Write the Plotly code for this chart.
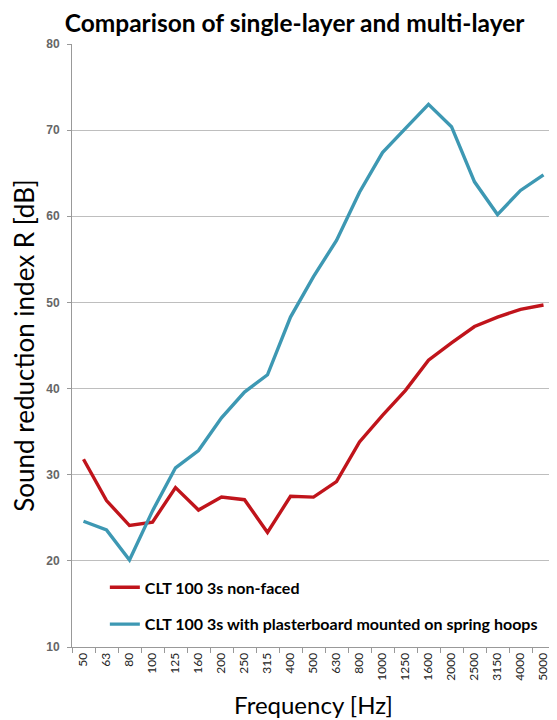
import plotly.graph_objects as go

freqs = ["50", "63", "80", "100", "125", "160", "200", "250", "315", "400", "500",
         "630", "800", "1000", "1250", "1600", "2000", "2500", "3150", "4000", "5000"]
clt_non_faced = [31.8, 27.0, 24.1, 24.5, 28.5, 25.9, 27.4, 27.1, 23.3, 27.5, 27.4,
                 29.2, 33.8, 36.9, 39.8, 43.3, 45.3, 47.2, 48.3, 49.2, 49.7]
clt_plasterboard = [24.6, 23.6, 20.1, 25.8, 30.8, 32.8, 36.6, 39.6, 41.6, 48.3, 53.0,
                    57.2, 62.8, 67.4, 70.2, 73.0, 70.4, 64.0, 60.2, 63.0, 64.8]
name_red = "CLT 100 3s non-faced"
name_blue = "CLT 100 3s with plasterboard mounted on spring hoops"

FONT = "Lato, Open Sans, sans-serif"

fig = go.Figure()
fig.add_trace(go.Scatter(x=freqs, y=clt_non_faced, mode="lines", name="<b>" + name_red + "</b>",
                         legendgroup="a", line=dict(color="#C0141B", width=3.4)))
fig.add_trace(go.Scatter(x=freqs, y=clt_plasterboard, mode="lines", name="<b>" + name_blue + "</b>",
                         legendgroup="b", line=dict(color="#3D98B3", width=3.4)))

fig.update_layout(
    width=549, height=712,
    margin=dict(l=64, r=2, t=36, b=73, autoexpand=False),
    paper_bgcolor="white", plot_bgcolor="white",
    title=dict(text="<b>Comparison of single-layer and multi-layer</b>",
               x=0.522, xanchor="center", xref="container", y=0.979, yanchor="middle",
               font=dict(family=FONT, size=24.5, color="black")),
    legend=dict(x=0.068, y=0.127, xanchor="left", yanchor="top",
                bgcolor="rgba(0,0,0,0)", tracegroupgap=13,
                font=dict(family=FONT, size=16, color="black")),
    showlegend=True,
)
fig.update_xaxes(
    type="category", range=[-0.5, 20.5], tickson="boundaries", ticks="outside", ticklen=5,
    tickcolor="#999999", showline=True, linecolor="#999999", linewidth=1,
    showgrid=False, tickangle=-90, automargin=False,
    tickfont=dict(family=FONT, size=12, color="#222222"),
    title=dict(text="Frequency [Hz]", standoff=17,
               font=dict(family=FONT, size=24, color="black")),
)
fig.update_yaxes(
    range=[10, 80], dtick=10, ticks="outside", ticklen=4, tickcolor="#999999",
    showline=True, linecolor="#999999", linewidth=1, automargin=False,
    ticklabelstandoff=5,
    showgrid=True, gridcolor="#BEBEBE", gridwidth=1, zeroline=False,
    tickfont=dict(family="Liberation Sans, Arial, sans-serif", size=12, color="#666666",
                  weight="bold"),
    title=dict(text="Sound reduction index R [dB]", standoff=6,
               font=dict(family=FONT, size=26, color="black")),
)

fig.write_html("out.html")
